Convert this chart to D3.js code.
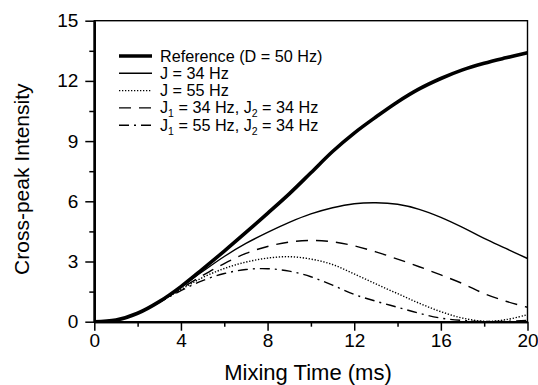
<!DOCTYPE html>
<html>
    <head>
        <meta charset="utf-8">
        <title>Cross-peak Intensity</title>
        <script src="https://d3js.org/d3.v7.min.js" charset="utf-8"></script>
        <style>
            body { margin: 0; background: #fff; }
            svg text { font-family: "Liberation Sans", Arial, sans-serif; fill: #000; }
        </style>
    </head>
    <body>
        <script>
            // mixing time (ms)
            var times = [0, 1, 2, 3, 4, 5, 6, 7, 8, 9, 10, 11, 12, 13, 14, 15, 16, 17, 18, 19, 20];

            // cross-peak intensity per series
            var refD50 = [0, 0.08, 0.42, 1.0, 1.75, 2.62, 3.52, 4.45, 5.4, 6.37, 7.42, 8.48, 9.4, 10.2, 10.95, 11.6, 12.12, 12.55, 12.88, 13.15, 13.4];
            var j34 = [0, 0.08, 0.42, 1.0, 1.72, 2.5, 3.25, 3.9, 4.45, 4.95, 5.37, 5.68, 5.88, 5.93, 5.85, 5.6, 5.2, 4.7, 4.15, 3.65, 3.15];
            var j55 = [0, 0.08, 0.42, 0.97, 1.6, 2.2, 2.65, 2.97, 3.17, 3.24, 3.12, 2.85, 2.38, 1.88, 1.4, 0.92, 0.5, 0.18, 0.02, 0.1, 0.35];
            var j34j34 = [0, 0.08, 0.42, 0.98, 1.65, 2.3, 2.9, 3.4, 3.75, 3.97, 4.05, 3.98, 3.78, 3.48, 3.12, 2.74, 2.33, 1.9, 1.4, 1.02, 0.72];
            var j55j34 = [0, 0.08, 0.42, 0.96, 1.55, 2.05, 2.4, 2.6, 2.64, 2.52, 2.24, 1.82, 1.36, 1.02, 0.72, 0.42, 0.18, 0.06, 0.01, 0.02, 0.06];

            var xTicks = [0, 4, 8, 12, 16, 20];
            var xMinor = [2, 6, 10, 14, 18];
            var yTicks = [0, 3, 6, 9, 12, 15];
            var yMinor = [1.5, 4.5, 7.5, 10.5, 13.5];

            var series = [
                {label: [["Reference (D = 50 Hz)"]], values: refD50, width: 3.6, dash: null},
                {label: [["J = 34 Hz"]], values: j34, width: 1.4, dash: null},
                {label: [["J = 55 Hz"]], values: j55, width: 1.4, dash: "1.3,1.7"},
                {label: [["J"], ["1", "sub"], [" = 34 Hz, J"], ["2", "sub"], [" = 34 Hz"]], values: j34j34, width: 1.4, dash: "12,8"},
                {label: [["J"], ["1", "sub"], [" = 55 Hz, J"], ["2", "sub"], [" = 34 Hz"]], values: j55j34, width: 1.4, dash: "10,5,2,5"}
            ];

            var width = 538, height = 385;
            var plotLeft = 94.3, plotRight = 527.5, plotTop = 20.7, plotBottom = 321.7;

            var x = d3.scaleLinear().domain([0, 20]).range([plotLeft, plotRight]);
            var y = d3.scaleLinear().domain([0, 15]).range([plotBottom, plotTop]);

            var svg = d3.select("body").append("svg")
                        .attr("width", width)
                        .attr("height", height);

            svg.append("clipPath").attr("id", "plotclip")
                .append("rect")
                .attr("x", plotLeft).attr("y", plotTop)
                .attr("width", plotRight - plotLeft).attr("height", plotBottom - plotTop);

            // frame (top and right)
            svg.append("rect")
                .attr("x", plotLeft).attr("y", plotTop)
                .attr("width", plotRight - plotLeft).attr("height", plotBottom - plotTop)
                .attr("fill", "none")
                .attr("stroke", "#000")
                .attr("stroke-width", 1.4);

            var line = d3.line()
                .x(function(d) { return x(d[0]); })
                .y(function(d) { return y(d[1]); })
                .curve(d3.curveCatmullRom.alpha(0.5));

            svg.append("g")
                .attr("clip-path", "url(#plotclip)")
                .selectAll("path")
                .data(series)
                .enter()
                .append("path")
                    .attr("fill", "none")
                    .attr("stroke", "#000")
                    .attr("stroke-width", function(d) { return d.width; })
                    .attr("stroke-dasharray", function(d) { return d.dash; })
                    .attr("d", function(d) { return line(d.values.map(function(v, i) { return [times[i], v]; })); });

            // axes
            svg.append("g")
                .attr("transform", "translate(0," + plotBottom + ")")
                .call(d3.axisBottom(x).tickValues(xTicks).tickSize(9).tickSizeOuter(0).tickPadding(3));
            svg.append("g")
                .attr("transform", "translate(0," + plotBottom + ")")
                .call(d3.axisBottom(x).tickValues(xMinor).tickSize(5).tickSizeOuter(0).tickFormat(""));

            svg.append("g")
                .attr("transform", "translate(" + plotLeft + ",0)")
                .call(d3.axisLeft(y).tickValues(yTicks).tickSize(9).tickSizeOuter(0).tickPadding(7));
            svg.append("g")
                .attr("transform", "translate(" + plotLeft + ",0)")
                .call(d3.axisLeft(y).tickValues(yMinor).tickSize(5).tickSizeOuter(0).tickFormat(""));

            svg.selectAll(".domain").attr("stroke-width", 2.2);
            svg.selectAll(".tick line").attr("stroke-width", 1.5);
            svg.selectAll(".tick text").attr("font-size", 19).attr("font-family", null);

            // axis titles
            svg.append("text")
                .attr("x", 308)
                .attr("y", 380)
                .attr("text-anchor", "middle")
                .attr("font-size", 22)
                .text("Mixing Time (ms)");

            svg.append("text")
                .attr("transform", "translate(29," + ((plotTop + plotBottom) / 2 + 8) + ") rotate(-90)")
                .attr("text-anchor", "middle")
                .attr("font-size", 21)
                .text("Cross-peak Intensity");

            // legend
            var legend = svg.append("g")
                .selectAll("g")
                .data(series)
                .enter()
                .append("g")
                    .attr("transform", function(d, i) { return "translate(119," + (56 + i * 17.3) + ")"; });

            legend.append("line")
                .attr("x1", 0).attr("x2", 33)
                .attr("stroke", "#000")
                .attr("stroke-width", function(d) { return d.width; })
                .attr("stroke-dasharray", function(d) { return d.dash; });

            var labels = legend.append("text")
                .attr("x", 41)
                .attr("y", 5.5)
                .attr("font-size", 16.2);

            labels.each(function(d) {
                var t = d3.select(this);
                var shifted = false;
                d.label.forEach(function(p) {
                    var s = t.append("tspan").text(p[0]);
                    if (p[1] === "sub") {
                        s.attr("dy", 4).attr("font-size", 10.5);
                        shifted = true;
                    } else if (shifted) {
                        s.attr("dy", -4);
                        shifted = false;
                    }
                });
            });
        </script>
    </body>
</html>
